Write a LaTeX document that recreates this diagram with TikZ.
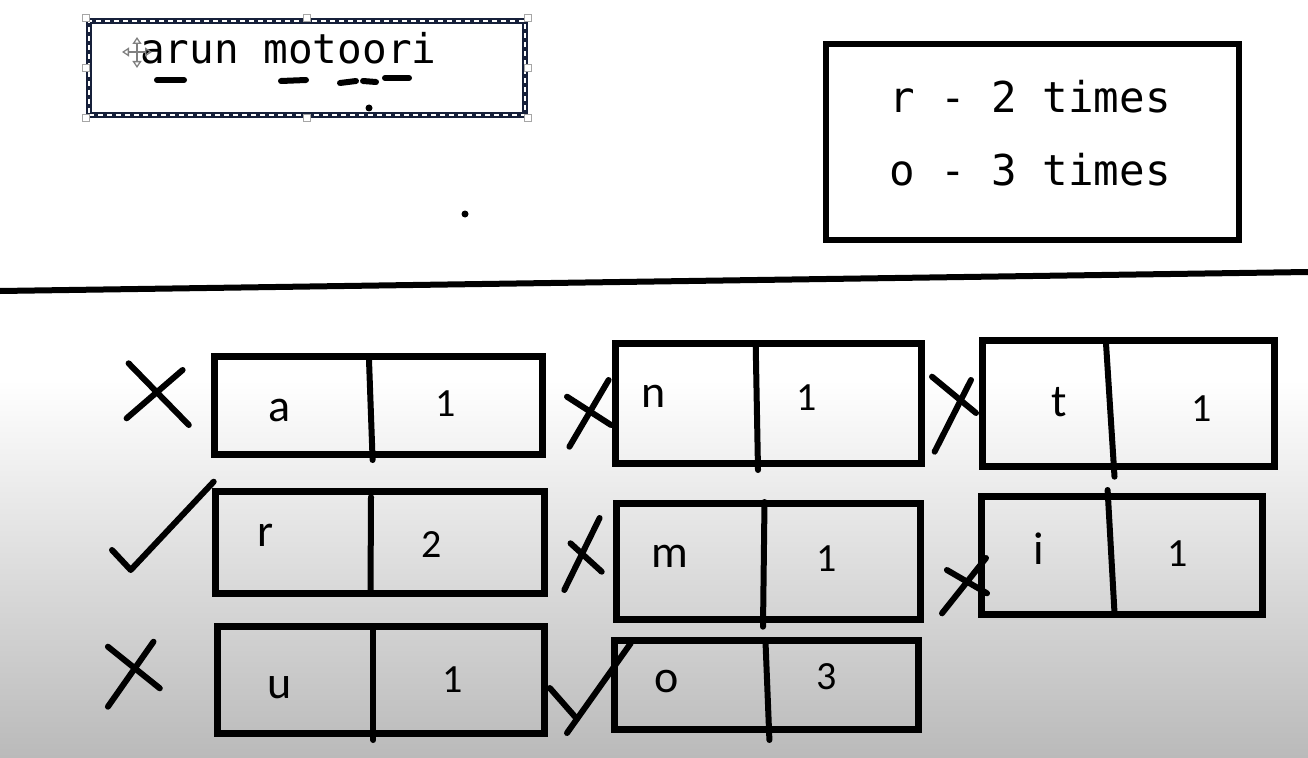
\documentclass[tikz,border=0pt]{standalone}
\usepackage{fontspec}
\newfontfamily\monof{DejaVu Sans Mono}
\newfontfamily\cellf{Carlito}
\usetikzlibrary{arrows.meta}
\definecolor{bgbottom}{RGB}{186,186,186}
\definecolor{navy}{RGB}{22,32,58}
\begin{document}
\begin{tikzpicture}[x=1pt,y=-1pt,
  cellbox/.style={draw=black, line width=7, inner sep=0, outer sep=0},
  divider/.style={line width=6, line cap=round},
  mk/.style={line width=6, line cap=round, line join=round},
  letter/.style={font=\cellf\fontsize{46}{46}\selectfont, inner sep=0},
  digit/.style={font=\cellf\fontsize{40}{40}\selectfont, inner sep=0},
  mono/.style={font=\monof\fontsize{41}{41}\selectfont, inner sep=0, anchor=base west},
  legendtext/.style={font=\monof\fontsize{42.5}{42.5}\selectfont, inner sep=0, anchor=base west},
  handle/.style={draw=gray!70, fill=white, line width=0.8, minimum size=7, inner sep=0}]
\useasboundingbox (0,0) rectangle (1308,757);
\fill[white] (0,0) rectangle (1308,380);
\shade[top color=white, bottom color=bgbottom] (0,380) rectangle (1308,757);

% top left name box
\node[draw=navy, line width=6.5, minimum width=436, minimum height=94, inner sep=0,
      postaction={draw=white, line width=1.4, dash pattern=on 5 off 4}] (namebox) at (307,68) {};
\foreach \a [count=\k] in {north west,north,north east,west,east,south west,south,south east}
  \node[handle] (h\k) at (namebox.\a) {};
\node[mono] (name) at (140,64) {arun motoori};
\draw[mk] (157,80) -- (184,80);
\draw[mk] (281,81) -- (306,80);
\draw[mk] (340,83) -- (356,81);
\draw[mk] (363,81) -- (376,82);
\draw[mk] (385,78) -- (409,78);
\fill (369,108) circle (3.5);
\fill (465,214) circle (3.5);
% move cursor icon
\draw[gray, line width=1.3, {Triangle[open,length=7,width=9]}-{Triangle[open,length=7,width=9]}] (122,52) -- (152,52);
\draw[gray, line width=1.3, {Triangle[open,length=7,width=9]}-{Triangle[open,length=7,width=9]}] (137,37) -- (137,68);

% legend box
\node[draw=black, line width=6, minimum width=413, minimum height=196, inner sep=0] (legend) at (1032.5,142) {};
\node[legendtext] (l1) at (889,113) {r - 2 times};
\node[legendtext] (l2) at (889,185) {o - 3 times};

% separator
\coordinate (sepL) at (0,291);
\coordinate (sepR) at (1308,272);
\draw[line width=6] (sepL) -- (sepR);

% cell boxes
\node[cellbox, minimum width=327.8, minimum height=97.4] (boxa) at (378.2,405.5) {};
\node[cellbox, minimum width=328.3, minimum height=101.4] (boxr) at (380,542.5) {};
\node[cellbox, minimum width=327, minimum height=106.7] (boxu) at (380.7,679.8) {};
\node[cellbox, minimum width=305.3, minimum height=119.7] (boxn) at (768.6,403.3) {};
\node[cellbox, minimum width=303.3, minimum height=116.3] (boxm) at (768.6,561.7) {};
\node[cellbox, minimum width=304, minimum height=89.6] (boxo) at (766.5,685) {};
\node[cellbox, minimum width=292, minimum height=126.3] (boxt) at (1128.2,403.3) {};
\node[cellbox, minimum width=280.8, minimum height=118] (boxi) at (1121.6,555.8) {};

% dividers
\draw[divider] (369,360) -- (372.6,460);
\draw[divider] (371,497) -- (370.5,592);
\draw[divider] (373.4,628) -- (373.4,740);
\draw[divider] (755.7,345) -- (758,470);
\draw[divider] (764.5,502) -- (763,626.7);
\draw[divider] (765.5,641.7) -- (769.4,740);
\draw[divider] (1106,343.3) -- (1114.5,476.7);
\draw[divider] (1107.6,490) -- (1114.5,613);

% cell labels
\node[letter] (ka) at (280,410) {a};   \node[digit] (va) at (446,404) {1};
\node[letter] (kr) at (265.6,535) {r}; \node[digit] (vr) at (431.5,545) {2};
\node[letter] (ku) at (280,688) {u};   \node[digit] (vu) at (453,680) {1};
\node[letter] (kn) at (653.7,396.7) {n}; \node[digit] (vn) at (807,398) {1};
\node[letter] (km) at (670,556.7) {m}; \node[digit] (vm) at (826.8,558.3) {1};
\node[letter] (ko) at (666.5,681.7) {o}; \node[digit] (vo) at (826.8,676.7) {3};
\node[letter] (kt) at (1059.6,401.7) {t}; \node[digit] (vt) at (1201.8,408.3) {1};
\node[letter] (ki) at (1039,548.3) {i}; \node[digit] (vi) at (1177.3,553.3) {1};

% marks
\draw[mk] (128.6,363.3) -- (188.8,425);
\draw[mk] (182.6,370) -- (126.6,418.3);
\draw[mk] (112,550) -- (130.7,570) -- (213.7,481.7);
\draw[mk] (107.9,646.7) -- (159.8,688.3);
\draw[mk] (153.5,641.7) -- (107.9,706.7);
\draw[mk] (567,396.7) -- (611,425);
\draw[mk] (608.6,380) -- (569.4,446.7);
\draw[mk] (599.6,518) -- (564.3,590);
\draw[mk] (570.5,543.3) -- (601.7,571.7);
\draw[mk] (549.8,688) -- (577,719);
\draw[mk] (567,733) -- (630.7,643.3);
\draw[mk] (932,376.7) -- (976,413);
\draw[mk] (971,380) -- (934.6,451.7);
\draw[mk] (986,558) -- (942,613.3);
\draw[mk] (946.9,570) -- (987,593.3);
\end{tikzpicture}
\end{document}
